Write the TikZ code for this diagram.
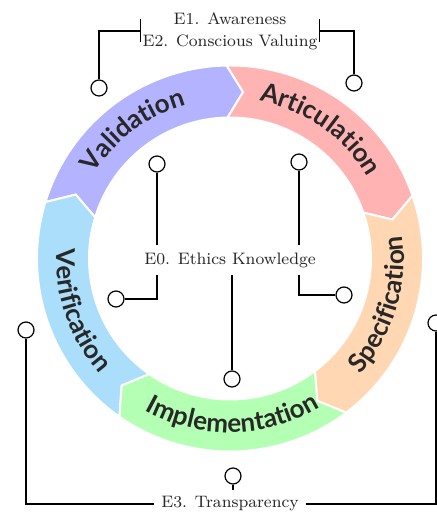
\documentclass[tikz,border=0pt]{standalone}
\usepackage{fontspec}
\newfontfamily\segfont{Lato}
\usetikzlibrary{calc,decorations.text}
\definecolor{valid}{RGB}{179,179,255}
\definecolor{artic}{RGB}{255,179,179}
\definecolor{spec}{RGB}{255,216,179}
\definecolor{impl}{RGB}{179,255,179}
\definecolor{verif}{RGB}{170,222,250}
\definecolor{segtext}{RGB}{40,40,40}
\newcommand\segstyle{\segfont\bfseries\fontsize{13}{15}\selectfont}
\tikzset{
  stub/.style={circle,draw,fill=white,line width=0.6pt,minimum size=8pt,inner sep=0pt},
  elabel/.style={font=\fontsize{8.3}{11}\selectfont,align=center,text=black!85},
  link/.style={line width=0.6pt}
}
\begin{document}
\begin{tikzpicture}[x=0.5pt,y=0.5pt]
        \useasboundingbox (-230,-253.5) rectangle (207,258.5);
        % ring of arrows
        \foreach \s/\col in {163/valid,91/artic,19/spec,-53/impl,-125/verif}
        \fill[\col,draw=white,line width=1pt] (\s:193) arc[start angle=\s,delta angle=-72,radius=193]
            -- ({\s-77.5}:167) -- ({\s-72}:141) arc[start angle={\s-72},delta angle=72,radius=141]
            -- ({\s-5.5}:167) -- cycle;
        \foreach \a/\b/\r/\txt in {163/91/160/Validation,91/19/160/Articulation,-53/19/174/Specification,-125/-53/174/Implementation,-197/-125/174/Verification}
        \path[decorate,decoration={text along path,text color=segtext,text align=center,
            text/.expanded={|\noexpand\segstyle|\txt}}] (\a:\r) arc[start angle=\a,end angle=\b,radius=\r];
        % labels and pins
        \node[elabel,inner xsep=1pt] (e12) at (0,227.5) {E1. Awareness\\E2. Conscious Valuing};
        \node[elabel] (e0) at (0,-1.5) {E0. Ethics Knowledge};
        \node[elabel] (e3) at (0,-245.5) {E3. Transparency};
        \node[stub] (p1) at (-131,170.5) {};
        \node[stub] (p2) at (124,175.5) {};
        \node[stub] (p3) at (-73,94.5) {};
        \node[stub] (p4) at (-114,-40.5) {};
        \node[stub] (p5) at (69,96.5) {};
        \node[stub] (p6) at (114,-36.5) {};
        \node[stub] (p7) at (2,-120.5) {};
        \node[stub] (p8) at (-204,-71.5) {};
        \node[stub] (p9) at (206,-64.5) {};
        \node[stub] (p10) at (3,-217.5) {};
        \draw[link] ([yshift=5.75pt]e12.west) -- ([yshift=-5.75pt]e12.west);
        \draw[link] ([yshift=5.75pt]e12.east) -- ([yshift=-5.75pt]e12.east);
        \draw[link] (p1) |- (e12.west);
        \draw[link] (p2) |- (e12.east);
        \draw[link] (p3) -- (p3 |- e0.north);
        \draw[link] (p4) -| (p3 |- e0.south);
        \draw[link] (p5) -- (p5 |- e0.north);
        \draw[link] (p6) -| (p5 |- e0.south);
        \draw[link] (p7) -- (p7 |- e0.south);
        \draw[link] (p8) |- (e3.west);
        \draw[link] (p9) |- (e3.east);
        \draw[link] (p10) -- (p10 |- e3.north);
    \end{tikzpicture}
\end{document}
